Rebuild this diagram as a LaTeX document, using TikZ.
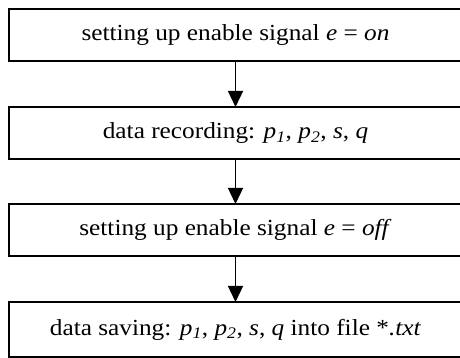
\documentclass[tikz,border=0pt]{standalone}
\usepackage{fontspec}
\setmainfont[FakeStretch=1.1]{Liberation Serif}
\usetikzlibrary{arrows.meta}
\begin{document}
\begin{tikzpicture}[x=1pt,y=1pt,
  stepbox/.style={draw, line width=1.8pt, minimum width=453pt, inner sep=0pt, outer sep=0pt,
    font=\fontsize{23}{27}\selectfont},
  flow/.style={line width=1.3pt, -{Triangle[width=15pt,length=16pt]}}]
\useasboundingbox (0,0) rectangle (460,358);
\node[stepbox, minimum height=52pt] (b1) at (235.5,323) {setting up enable signal \textit{e} = \textit{on}};
\node[stepbox, minimum height=52pt] (b2) at (235.5,225) {data recording: \textit{p}\textsubscript{\textit{1}}, \textit{p}\textsubscript{\textit{2}}, \textit{s}, \textit{q}};
\node[stepbox, minimum height=52pt] (b3) at (235.5,128) {setting up enable signal \textit{e} = \textit{off}};
\node[stepbox, minimum height=55pt] (b4) at (235.5,28.5) {data saving: \textit{p}\textsubscript{\textit{1}}, \textit{p}\textsubscript{\textit{2}}, \textit{s}, \textit{q} into file *\textit{.txt}};
\draw[flow] (b1.south) -- (b2.north);
\draw[flow] (b2.south) -- (b3.north);
\draw[flow] (b3.south) -- (b4.north);
\end{tikzpicture}
\end{document}
